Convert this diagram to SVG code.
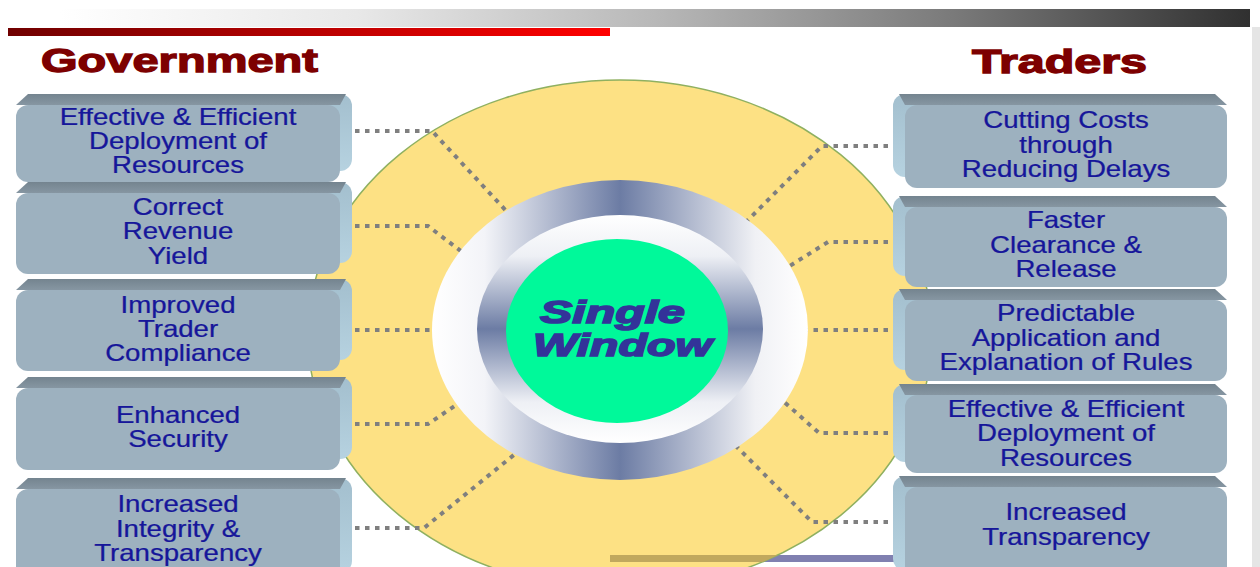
<svg xmlns="http://www.w3.org/2000/svg" width="1260" height="567" viewBox="0 0 1260 567">
  <defs>
    <linearGradient id="grayBar" x1="60" y1="0" x2="1250" y2="0" gradientUnits="userSpaceOnUse">
      <stop offset="0" stop-color="#ffffff"/>
      <stop offset="0.25" stop-color="#e8e8e8"/>
      <stop offset="0.5" stop-color="#b8b8b8"/>
      <stop offset="0.75" stop-color="#7a7a7a"/>
      <stop offset="1" stop-color="#303030"/>
    </linearGradient>
    <linearGradient id="redBar" x1="8" y1="0" x2="610" y2="0" gradientUnits="userSpaceOnUse">
      <stop offset="0" stop-color="#700000"/>
      <stop offset="1" stop-color="#ff0000"/>
    </linearGradient>
    <linearGradient id="outerRing" x1="0" y1="0" x2="1" y2="0">
      <stop offset="0" stop-color="#ffffff"/>
      <stop offset="0.14" stop-color="#f3f4f8"/>
      <stop offset="0.5" stop-color="#6c7ca4"/>
      <stop offset="0.86" stop-color="#f0f1f5"/>
      <stop offset="1" stop-color="#ffffff"/>
    </linearGradient>
    <linearGradient id="innerRing" x1="0" y1="0" x2="0" y2="1">
      <stop offset="0" stop-color="#ffffff"/>
      <stop offset="0.18" stop-color="#eef0f5"/>
      <stop offset="0.5" stop-color="#6c7ca4"/>
      <stop offset="0.82" stop-color="#eef0f5"/>
      <stop offset="1" stop-color="#ffffff"/>
    </linearGradient>
    <linearGradient id="topFace" x1="0" y1="0" x2="0" y2="1">
      <stop offset="0" stop-color="#74848f"/>
      <stop offset="1" stop-color="#8696a2"/>
    </linearGradient>
    <linearGradient id="sideFace" x1="0" y1="0" x2="0" y2="1">
      <stop offset="0" stop-color="#a3bfce"/>
      <stop offset="1" stop-color="#b6d2e0"/>
    </linearGradient>
    <clipPath id="discClip">
      <ellipse cx="620" cy="335" rx="312" ry="255"/>
    </clipPath>
  </defs>
  <style>
    .title { font-family: "Liberation Sans", Arial, sans-serif; font-weight: bold; font-size: 34px; fill: #7d0000; stroke: #7d0000; stroke-width: 1.3; }
    .side { fill: url(#sideFace); }
    .top { fill: url(#topFace); }
    .front { fill: #9db1bf; }
    .lbl { font-family: "Liberation Sans", Arial, sans-serif; font-size: 23px; fill: #16169a; stroke: #16169a; stroke-width: 0.25; text-anchor: middle; }
    .dots { fill: none; stroke: #7f7f7f; stroke-width: 4; stroke-dasharray: 4.5 5.5; }
    .core { font-family: "Liberation Sans", Arial, sans-serif; font-weight: bold; font-style: italic; font-size: 32px; fill: #333399; stroke: #333399; stroke-width: 1.6; }
  </style>

  <!-- page furniture -->
  <rect x="60" y="9" width="1190" height="18" fill="url(#grayBar)"/>
  <rect x="8" y="28" width="602" height="8" fill="url(#redBar)"/>
  <rect x="1252" y="27" width="8" height="540" fill="#e5e5e5"/>
  <text class="title" x="41" y="72" textLength="277" lengthAdjust="spacingAndGlyphs">Government</text>
  <text class="title" x="972" y="73" textLength="175" lengthAdjust="spacingAndGlyphs">Traders</text>

  <!-- footer rule, tinted where it passes under the disc -->
  <rect x="610" y="555" width="295" height="7" fill="#8080b0"/>

  <!-- background disc -->
  <ellipse cx="620" cy="335" rx="312" ry="255" fill="#fde184" stroke="#8fb060" stroke-width="1.5"/>
  <rect x="610" y="555" width="295" height="7" fill="#c0a85e" clip-path="url(#discClip)"/>

  <!-- connectors -->
  <g id="connectors">
    <path class="dots" d="M345 131 H432 L510 215"/>
    <path class="dots" d="M345 226 H428 L466 255"/>
    <path class="dots" d="M345 330 H438"/>
    <path class="dots" d="M345 424 H428 L462 401"/>
    <path class="dots" d="M345 528 H424 L520 450"/>
    <path class="dots" d="M898 146 H822 L746 222"/>
    <path class="dots" d="M898 242 H828 L788 267"/>
    <path class="dots" d="M898 330 H804"/>
    <path class="dots" d="M898 433 H819 L782 400"/>
    <path class="dots" d="M898 522 H812 L734 444"/>
  </g>

  <!-- central hub -->
  <g id="single-window">
    <ellipse cx="620" cy="330" rx="188" ry="150" fill="url(#outerRing)"/>
    <ellipse cx="620" cy="329" rx="143" ry="114" fill="url(#innerRing)"/>
    <ellipse cx="617" cy="331" rx="111" ry="92" fill="#00f99a"/>
    <text class="core" x="540" y="323" textLength="145" lengthAdjust="spacingAndGlyphs">Single</text>
    <text class="core" x="533" y="356" textLength="179" lengthAdjust="spacingAndGlyphs">Window</text>
  </g>

  <!-- Government benefits -->
  <g id="gov-resources">
    <rect class="side" x="28" y="94" width="324" height="77" rx="12"/>
    <path class="top" d="M16 105 L28 94 H346 L340 105 Z"/>
    <rect class="front" x="16" y="105" width="324" height="77" rx="12"/>
    <g transform="matrix(1.2 0 0 1 178 0)">
      <text class="lbl" x="0" y="125">Effective &amp; Efficient</text>
      <text class="lbl" x="0" y="149">Deployment of</text>
      <text class="lbl" x="0" y="173">Resources</text>
    </g>
  </g>
  <g id="gov-revenue">
    <rect class="side" x="28" y="182" width="324" height="81" rx="12"/>
    <path class="top" d="M16 193 L28 182 H346 L340 193 Z"/>
    <rect class="front" x="16" y="193" width="324" height="81" rx="12"/>
    <g transform="matrix(1.2 0 0 1 178 0)">
      <text class="lbl" x="0" y="215">Correct</text>
      <text class="lbl" x="0" y="239">Revenue</text>
      <text class="lbl" x="0" y="264">Yield</text>
    </g>
  </g>
  <g id="gov-compliance">
    <rect class="side" x="28" y="279" width="324" height="81" rx="12"/>
    <path class="top" d="M16 290 L28 279 H346 L340 290 Z"/>
    <rect class="front" x="16" y="290" width="324" height="81" rx="12"/>
    <g transform="matrix(1.2 0 0 1 178 0)">
      <text class="lbl" x="0" y="313">Improved</text>
      <text class="lbl" x="0" y="337">Trader</text>
      <text class="lbl" x="0" y="361">Compliance</text>
    </g>
  </g>
  <g id="gov-security">
    <rect class="side" x="28" y="377" width="324" height="82" rx="12"/>
    <path class="top" d="M16 388 L28 377 H346 L340 388 Z"/>
    <rect class="front" x="16" y="388" width="324" height="82" rx="12"/>
    <g transform="matrix(1.2 0 0 1 178 0)">
      <text class="lbl" x="0" y="423">Enhanced</text>
      <text class="lbl" x="0" y="447">Security</text>
    </g>
  </g>
  <g id="gov-integrity">
    <rect class="side" x="28" y="478" width="324" height="95" rx="12"/>
    <path class="top" d="M16 489 L28 478 H346 L340 489 Z"/>
    <rect class="front" x="16" y="489" width="324" height="95" rx="12"/>
    <g transform="matrix(1.2 0 0 1 178 0)">
      <text class="lbl" x="0" y="512">Increased</text>
      <text class="lbl" x="0" y="537">Integrity &amp;</text>
      <text class="lbl" x="0" y="561">Transparency</text>
    </g>
  </g>

  <!-- Trader benefits -->
  <g id="trade-costs">
    <rect class="side" x="893" y="94" width="322" height="83" rx="12"/>
    <path class="top" d="M1227 105 L1215 94 H899 L905 105 Z"/>
    <rect class="front" x="905" y="105" width="322" height="83" rx="12"/>
    <g transform="matrix(1.2 0 0 1 1066 0)">
      <text class="lbl" x="0" y="128">Cutting Costs</text>
      <text class="lbl" x="0" y="153">through</text>
      <text class="lbl" x="0" y="177">Reducing Delays</text>
    </g>
  </g>
  <g id="trade-clearance">
    <rect class="side" x="893" y="196" width="322" height="80" rx="12"/>
    <path class="top" d="M1227 207 L1215 196 H899 L905 207 Z"/>
    <rect class="front" x="905" y="207" width="322" height="80" rx="12"/>
    <g transform="matrix(1.2 0 0 1 1066 0)">
      <text class="lbl" x="0" y="228">Faster</text>
      <text class="lbl" x="0" y="253">Clearance &amp;</text>
      <text class="lbl" x="0" y="277">Release</text>
    </g>
  </g>
  <g id="trade-rules">
    <rect class="side" x="893" y="289" width="322" height="81" rx="12"/>
    <path class="top" d="M1227 300 L1215 289 H899 L905 300 Z"/>
    <rect class="front" x="905" y="300" width="322" height="81" rx="12"/>
    <g transform="matrix(1.2 0 0 1 1066 0)">
      <text class="lbl" x="0" y="321">Predictable</text>
      <text class="lbl" x="0" y="346">Application and</text>
      <text class="lbl" x="0" y="370">Explanation of Rules</text>
    </g>
  </g>
  <g id="trade-resources">
    <rect class="side" x="893" y="384" width="322" height="78" rx="12"/>
    <path class="top" d="M1227 395 L1215 384 H899 L905 395 Z"/>
    <rect class="front" x="905" y="395" width="322" height="78" rx="12"/>
    <g transform="matrix(1.2 0 0 1 1066 0)">
      <text class="lbl" x="0" y="417">Effective &amp; Efficient</text>
      <text class="lbl" x="0" y="441">Deployment of</text>
      <text class="lbl" x="0" y="466">Resources</text>
    </g>
  </g>
  <g id="trade-transparency">
    <rect class="side" x="893" y="476" width="322" height="95" rx="12"/>
    <path class="top" d="M1227 487 L1215 476 H899 L905 487 Z"/>
    <rect class="front" x="905" y="487" width="322" height="95" rx="12"/>
    <g transform="matrix(1.2 0 0 1 1066 0)">
      <text class="lbl" x="0" y="520">Increased</text>
      <text class="lbl" x="0" y="545">Transparency</text>
    </g>
  </g>
</svg>
